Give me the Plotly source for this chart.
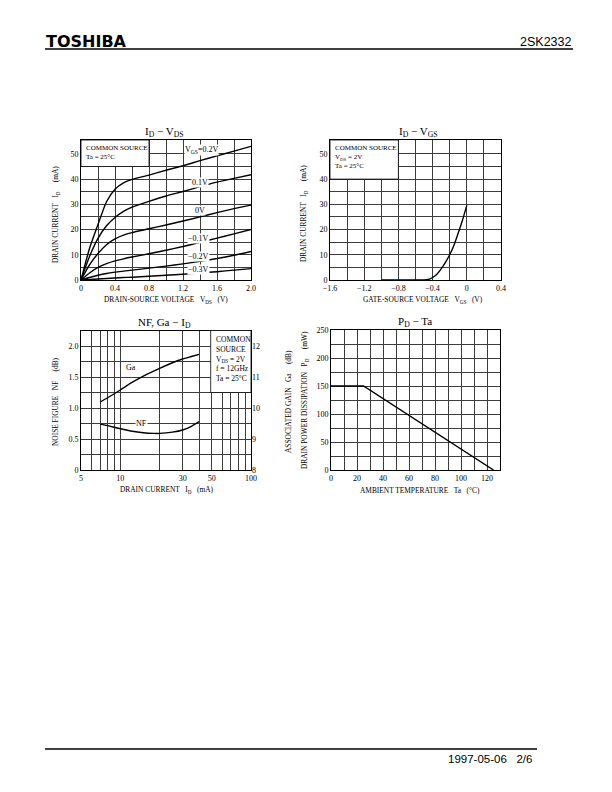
import math
import plotly.graph_objects as go

# ---------------- data ----------------
# Chart 1: ID - VDS
vds = [0, 0.1, 0.2, 0.3, 0.4, 0.5, 0.6, 0.8, 1.0, 1.2, 1.4, 1.6, 1.8, 2.0]
id_vgs_p02 = [0, 12.5, 22, 31, 36, 38.5, 39.9, 41.6, 43.5, 45.3, 47.3, 49.2, 51.1, 53.0]
id_vgs_p01 = [0, 9.3, 16.5, 21.5, 24.8, 27.2, 28.9, 31.2, 33.3, 35.1, 37.0, 38.8, 40.3, 41.7]
id_vgs_0 = [0, 6.0, 10.5, 14.0, 16.3, 17.8, 18.8, 20.3, 21.8, 23.4, 25.0, 26.7, 28.3, 29.7]
id_vgs_m01 = [0, 2.8, 5.0, 6.5, 7.6, 8.4, 9.1, 10.4, 11.8, 13.3, 14.9, 16.6, 18.3, 20.0]
id_vgs_m02 = [0, 1.0, 1.9, 2.6, 3.1, 3.5, 3.9, 4.7, 5.5, 6.4, 7.4, 8.5, 9.8, 11.3]
id_vgs_m03 = [0, 0.2, 0.4, 0.6, 0.8, 1.0, 1.1, 1.5, 1.9, 2.3, 2.8, 3.3, 3.9, 4.5]
vgs_labels = ["V<sub>GS</sub>=0.2V", "0.1V", "0V", "\u22120.1V", "\u22120.2V", "\u22120.3V"]
vgs_label_x = [1.42, 1.40, 1.40, 1.38, 1.38, 1.38]
vgs_label_y = [51.5, 38.6, 27.7, 16.5, 9.3, 4.0]

# Chart 2: ID - VGS
vgs = [-1.0, -0.6, -0.5, -0.45, -0.4, -0.35, -0.3, -0.25, -0.2, -0.15, -0.1, -0.05, 0.0]
id_vgs = [0, 0, 0.0, 0.2, 1.0, 2.3, 4.4, 7.0, 10.0, 13.8, 18.6, 23.8, 29.6]

# Chart 3: NF, Ga - ID
nf_id = [7, 8, 10, 12, 15, 18, 20, 25, 30, 35, 40]
nf = [0.74, 0.715, 0.665, 0.63, 0.60, 0.59, 0.59, 0.61, 0.645, 0.705, 0.78]
ga_id = [7, 8, 10, 12, 15, 20, 25, 30, 35, 40]
ga = [10.19, 10.33, 10.58, 10.80, 11.03, 11.28, 11.46, 11.58, 11.66, 11.73]

# Chart 4: PD - Ta
ta = [0, 25, 125]
pd_mw = [150, 150, 0]

# ticks / gridlines
x1_ticks = [0, 0.2, 0.4, 0.6, 0.8, 1.0, 1.2, 1.4, 1.6, 1.8, 2.0]
x1_text = ["0", "", "0.4", "", "0.8", "", "1.2", "", "1.6", "", "2.0"]
y12_ticks = [0, 5, 10, 15, 20, 25, 30, 35, 40, 45, 50]
y12_text = ["0", "", "10", "", "20", "", "30", "", "40", "", "50"]
x2_ticks = [-1.6, -1.4, -1.2, -1.0, -0.8, -0.6, -0.4, -0.2, 0, 0.2, 0.4]
x2_text = ["\u22121.6", "", "\u22121.2", "", "\u22120.8", "", "\u22120.4", "", "0", "", "0.4"]
x3_ticks = [5, 6, 7, 8, 9, 10, 20, 30, 40, 50, 60, 70, 80, 90, 100]
x3_text = ["5", "", "", "", "", "10", "", "30", "", "50", "", "", "", "", "100"]
y3_ticks = [0, 0.25, 0.5, 0.75, 1.0, 1.25, 1.5, 1.75, 2.0]
y3_text = ["0", "", "0.5", "", "1.0", "", "1.5", "", "2.0"]
y5_ticks = [8, 9, 10, 11, 12]
y5_text = ["8", "9", "10", "11", "12"]
x4_ticks = [0, 10, 20, 30, 40, 50, 60, 70, 80, 90, 100, 110, 120]
x4_text = ["0", "", "20", "", "40", "", "60", "", "80", "", "100", "", "120"]
y4_ticks = [0, 25, 50, 75, 100, 125, 150, 175, 200, 225, 250]
y4_text = ["0", "", "50", "", "100", "", "150", "", "200", "", "250"]

# ---------------- figure ----------------
W, H = 612, 792
SERIF = "Liberation Serif"
SANS = "Liberation Sans"
GRID = "#3c3c3c"
NB = "\u00a0\u00a0\u00a0"
NB4 = "\u00a0\u00a0\u00a0\u00a0\u00a0"


def px(x):
    return x / W


def py(y):
    return 1 - y / H


fig = go.Figure()
line = dict(color="black", width=1.4, shape="spline", smoothing=0.6)

for ys in [id_vgs_p02, id_vgs_p01, id_vgs_0, id_vgs_m01, id_vgs_m02, id_vgs_m03]:
    fig.add_trace(go.Scatter(x=vds, y=ys, mode="lines", line=line, xaxis="x", yaxis="y",
                             showlegend=False, hoverinfo="skip"))

fig.add_trace(go.Scatter(x=vgs, y=id_vgs, mode="lines", line=line, xaxis="x2", yaxis="y2",
                         showlegend=False, hoverinfo="skip"))

fig.add_trace(go.Scatter(x=nf_id, y=nf, mode="lines", line=line, xaxis="x3", yaxis="y3",
                         showlegend=False, hoverinfo="skip"))
fig.add_trace(go.Scatter(x=ga_id, y=ga, mode="lines", line=line, xaxis="x3", yaxis="y5",
                         showlegend=False, hoverinfo="skip"))

fig.add_trace(go.Scatter(x=ta, y=pd_mw, mode="lines", line=dict(color="black", width=1.4),
                         xaxis="x4", yaxis="y4", showlegend=False, hoverinfo="skip"))

tickfont = dict(family=SERIF, size=8, color="black")
common = dict(showline=True, linecolor="black", linewidth=1, mirror=True, showgrid=True,
              gridcolor=GRID, gridwidth=0.8, zeroline=False, ticks="", tickfont=tickfont,
              fixedrange=True, tickmode="array", automargin=False)

fig.update_layout(
    width=W, height=H, margin=dict(l=0, r=0, t=0, b=0, pad=0, autoexpand=False),
    paper_bgcolor="white", plot_bgcolor="white",
    xaxis=dict(common, domain=[px(81), px(251)], anchor="y", range=[0, 2],
               tickvals=x1_ticks, ticktext=x1_text),
    yaxis=dict(common, domain=[py(280), py(140)], anchor="x", range=[0, 55.5],
               tickvals=y12_ticks, ticktext=y12_text),
    xaxis2=dict(common, domain=[px(330), px(501)], anchor="y2", range=[-1.6, 0.4],
                tickvals=x2_ticks, ticktext=x2_text),
    yaxis2=dict(common, domain=[py(280), py(140)], anchor="x2", range=[0, 55.5],
                tickvals=y12_ticks, ticktext=y12_text),
    xaxis3=dict(common, domain=[px(81), px(251)], anchor="y3", type="log",
                range=[math.log10(5), 2], tickvals=x3_ticks, ticktext=x3_text),
    yaxis3=dict(common, domain=[py(470), py(330.5)], anchor="x3", range=[0, 2.25],
                tickvals=y3_ticks, ticktext=y3_text),
    yaxis5=dict(common, overlaying="y3", anchor="x3", side="right", range=[8, 12.5],
                showgrid=False, showline=False, mirror=False,
                tickvals=y5_ticks, ticktext=y5_text),
    xaxis4=dict(common, domain=[px(331), px(500)], anchor="y4", range=[0, 130],
                tickvals=x4_ticks, ticktext=x4_text),
    yaxis4=dict(common, domain=[py(470), py(330)], anchor="x4", range=[0, 250],
                tickvals=y4_ticks, ticktext=y4_text),
)

shapes = []
annotations = []

# condition boxes
box = dict(type="rect", fillcolor="white", line=dict(color="black", width=0.8), layer="above")
shapes.append(dict(box, xref="x", yref="y", x0=0, x1=0.8, y0=45, y1=55.5))
shapes.append(dict(box, xref="x2", yref="y2", x0=-1.6, x1=-0.8, y0=40, y1=55.5))
shapes.append(dict(box, xref="paper", yref="paper", x0=px(210.7), x1=px(251),
                   y0=py(392.5), y1=py(330.5)))

boxfont = dict(family=SERIF, size=7, color="black")
annotations.append(dict(xref="x", yref="y", x=0.03, y=54.8, xanchor="left", yanchor="top",
                        align="left", showarrow=False, font=boxfont,
                        text="COMMON SOURCE<br>Ta = 25\u00b0C"))
annotations.append(dict(xref="x2", yref="y2", x=-1.57, y=54.6, xanchor="left", yanchor="top",
                        align="left", showarrow=False, font=boxfont,
                        text="COMMON SOURCE<br>V<sub>DS</sub> = 2V<br>Ta = 25\u00b0C"))
annotations.append(dict(xref="paper", yref="paper", x=px(214), y=py(333), xanchor="left",
                        yanchor="top", align="left", showarrow=False,
                        font=dict(family=SERIF, size=7.5, color="black"),
                        text="COMMON<br>SOURCE<br>V<sub>DS</sub> = 2V<br>f = 12GHz<br>Ta = 25\u00b0C"))

# curve labels chart 1
lblfont = dict(family=SERIF, size=8, color="black")
for t, xx, yy in zip(vgs_labels, vgs_label_x, vgs_label_y):
    annotations.append(dict(xref="x", yref="y", x=xx, y=yy, text=t, showarrow=False,
                            font=lblfont, bgcolor="white", borderpad=0))

# curve labels chart 3
annotations.append(dict(xref="x3", yref="y3", x=math.log10(12.1), y=1.66, text="Ga",
                        showarrow=False, font=lblfont, bgcolor="white", borderpad=0))
annotations.append(dict(xref="x3", yref="y3", x=math.log10(14.6), y=0.75, text="NF",
                        showarrow=False, font=lblfont, bgcolor="white", borderpad=0))

# chart titles
tfont = dict(family=SERIF, size=11, color="black")
for t, xx, yy in [("I<sub>D</sub> \u2212 V<sub>DS</sub>", 164, 132.5),
                  ("I<sub>D</sub> \u2212 V<sub>GS</sub>", 418, 132.5),
                  ("NF, Ga \u2212 I<sub>D</sub>", 164, 322.5),
                  ("P<sub>D</sub> \u2212 Ta", 415, 322)]:
    annotations.append(dict(xref="paper", yref="paper", x=px(xx), y=py(yy), text=t,
                            showarrow=False, font=tfont, xanchor="center", yanchor="middle"))

# axis titles
afont = dict(family=SERIF, size=7.4, color="black")
xt = [("DRAIN-SOURCE VOLTAGE" + NB + "V<sub>DS</sub>" + NB + "(V)", 166, 300),
      ("GATE-SOURCE VOLTAGE" + NB + "V<sub>GS</sub>" + NB + "(V)", 423, 300),
      ("DRAIN CURRENT" + NB + "I<sub>D</sub>" + NB + "(mA)", 167, 490),
      ("AMBIENT TEMPERATURE" + NB + "Ta" + NB + "(\u00b0C)", 420, 490)]
for t, xx, yy in xt:
    annotations.append(dict(xref="paper", yref="paper", x=px(xx), y=py(yy), text=t,
                            showarrow=False, font=afont, xanchor="center", yanchor="middle"))
yt = [("DRAIN CURRENT" + NB + "I<sub>D</sub>" + NB4 + "(mA)", 56, 214),
      ("DRAIN CURRENT" + NB + "I<sub>D</sub>" + NB4 + "(mA)", 304, 214),
      ("NOISE FIGURE" + NB + "NF" + NB4 + "(dB)", 55, 402),
      ("ASSOCIATED GAIN" + NB + "Ga" + NB4 + "(dB)", 288, 402),
      ("DRAIN POWER DISSIPATION" + NB + "P<sub>D</sub>" + NB4 + "(mW)", 305, 400)]
for t, xx, yy in yt:
    annotations.append(dict(xref="paper", yref="paper", x=px(xx), y=py(yy), text=t,
                            showarrow=False, font=afont, textangle=-90,
                            xanchor="center", yanchor="middle"))

# header / footer
annotations.append(dict(xref="paper", yref="paper", x=px(44), y=py(41), text="<b>TOSHIBA</b>",
                        showarrow=False, font=dict(family="DejaVu Sans", size=16, color="black"),
                        xanchor="left", yanchor="middle"))
annotations.append(dict(xref="paper", yref="paper", x=px(573), y=py(42), text="2SK2332",
                        showarrow=False, font=dict(family=SANS, size=12.5, color="black"),
                        xanchor="right", yanchor="middle"))
annotations.append(dict(xref="paper", yref="paper", x=px(534), y=py(759),
                        text="1997-05-06" + NB + "2/6", showarrow=False,
                        font=dict(family=SANS, size=11.5, color="black"),
                        xanchor="right", yanchor="middle"))
shapes.append(dict(type="line", xref="paper", yref="paper", x0=px(45), x1=px(573),
                   y0=py(49), y1=py(49), line=dict(color="black", width=1.5)))
shapes.append(dict(type="line", xref="paper", yref="paper", x0=px(45), x1=px(537),
                   y0=py(749), y1=py(749), line=dict(color="black", width=1.5)))

fig.update_layout(shapes=shapes, annotations=annotations)
fig.write_html("out.html")
